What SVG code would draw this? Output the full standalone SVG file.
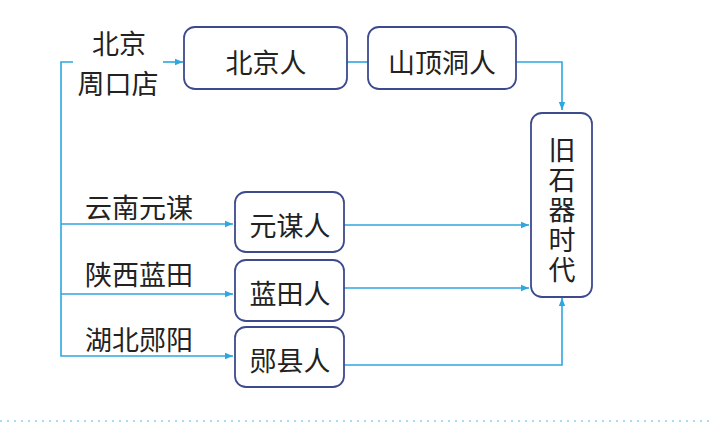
<svg xmlns="http://www.w3.org/2000/svg" width="712" height="426" viewBox="0 0 712 426">
<defs>
<style>
.box{fill:#fff;stroke:#3d4a8c;stroke-width:1.8}
.ln{fill:none;stroke:#2ea6df;stroke-width:1.6}
.t{font-family:"Noto Sans CJK SC","Noto Sans",sans-serif;font-size:27px;fill:#222;text-anchor:middle;dominant-baseline:central}
.lab{font-family:"Noto Sans CJK SC","Noto Sans",sans-serif;font-size:27px;fill:#222;text-anchor:middle;dominant-baseline:central}
</style>
<marker id="ar" viewBox="0 0 10 10" refX="10" refY="5" markerWidth="10" markerHeight="8" markerUnits="userSpaceOnUse" orient="auto">
<path d="M0,1 L10,5 L0,9 Z" fill="#2ea6df"/>
</marker>
</defs>
<rect width="712" height="426" fill="#fff"/>
<g id="connectors">
<polyline class="ln" points="73,62 61,62 61,356 233,356" marker-end="url(#ar)"/>
<line class="ln" x1="163" y1="62" x2="183" y2="62" marker-end="url(#ar)"/>
<line class="ln" x1="61" y1="224" x2="233" y2="224" marker-end="url(#ar)"/>
<line class="ln" x1="61" y1="294" x2="233" y2="294" marker-end="url(#ar)"/>
<line class="ln" x1="347" y1="62" x2="368" y2="62"/>
<polyline class="ln" points="516,62 562,62 562,110" marker-end="url(#ar)"/>
<line class="ln" x1="344" y1="225" x2="529" y2="225" marker-end="url(#ar)"/>
<line class="ln" x1="344" y1="288" x2="529" y2="288" marker-end="url(#ar)"/>
<polyline class="ln" points="344,365 562,365 562,298" marker-end="url(#ar)"/>
<line x1="0" y1="421" x2="712" y2="421" stroke="#a8dcee" stroke-width="2" stroke-dasharray="2,5"/>
</g>
<g id="labels">
<text class="lab" x="119" y="42">北京</text>
<text class="lab" x="118" y="82">周口店</text>
<text class="lab" x="139" y="206">云南元谋</text>
<text class="lab" x="139" y="273">陕西蓝田</text>
<text class="lab" x="139" y="338">湖北郧阳</text>
</g>
<g id="n-beijingren">
<rect class="box" x="184" y="27" width="163" height="62" rx="11"/>
<text class="t" x="266" y="61">北京人</text>
</g>
<g id="n-shandingdongren">
<rect class="box" x="368" y="27" width="148" height="62" rx="11"/>
<text class="t" x="442" y="61">山顶洞人</text>
</g>
<g id="n-yuanmouren">
<rect class="box" x="235" y="192" width="109" height="60" rx="11"/>
<text class="t" x="290" y="224">元谋人</text>
</g>
<g id="n-lantianren">
<rect class="box" x="235" y="260" width="109" height="61" rx="11"/>
<text class="t" x="290" y="292">蓝田人</text>
</g>
<g id="n-yunxianren">
<rect class="box" x="235" y="327" width="109" height="60" rx="11"/>
<text class="t" x="290" y="359">郧县人</text>
</g>
<g id="n-jiushiqi">
<rect class="box" x="531" y="113" width="61" height="184" rx="11"/>
<text x="562" y="211" writing-mode="vertical-rl" text-anchor="middle" letter-spacing="3" style="font-family:'Noto Sans CJK SC','Noto Sans',sans-serif;font-size:27px;fill:#222">旧石器时代</text>
</g>
</svg>
